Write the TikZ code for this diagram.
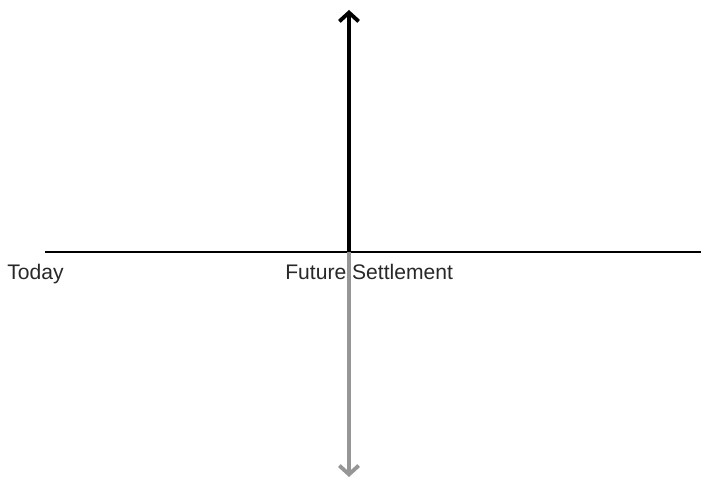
\documentclass[tikz,border=0pt]{standalone}
\usepackage{fontspec}
\setmainfont{Liberation Sans}
\usetikzlibrary{positioning,arrows.meta}
\definecolor{settlegray}{RGB}{150,150,150}
\definecolor{labelgray}{RGB}{40,40,40}

\begin{document}
\begin{tikzpicture}[x=0.02cm,y=0.02cm,
    every node/.style={inner sep=0pt, text=labelgray, font=\fontsize{12}{14}\selectfont},
    flow/.style={line width=2pt, -{Straight Barb[length=5pt,width=11pt,line width=2.2pt]}}]
      \useasboundingbox (0,0) rectangle (701,479);

      % Nodes
      \coordinate (start) at (45,227);
      \coordinate (finish) at (701,227);
      \coordinate (settle) at (349,227);
      \coordinate (up) at (349,469);
      \coordinate (down) at (349,2);

      \node (today) at (7,199) [anchor=base west] {Today};
      \node (future) at (285,199) [anchor=base west] {Future Settlement};

      % Time line and cash flows
      \draw[line width=0.9pt] (start) -- (finish);
      \draw[flow, settlegray] (settle) -- (down);
      \draw[flow, black] (settle) -- (up);

    \end{tikzpicture}
\end{document}
